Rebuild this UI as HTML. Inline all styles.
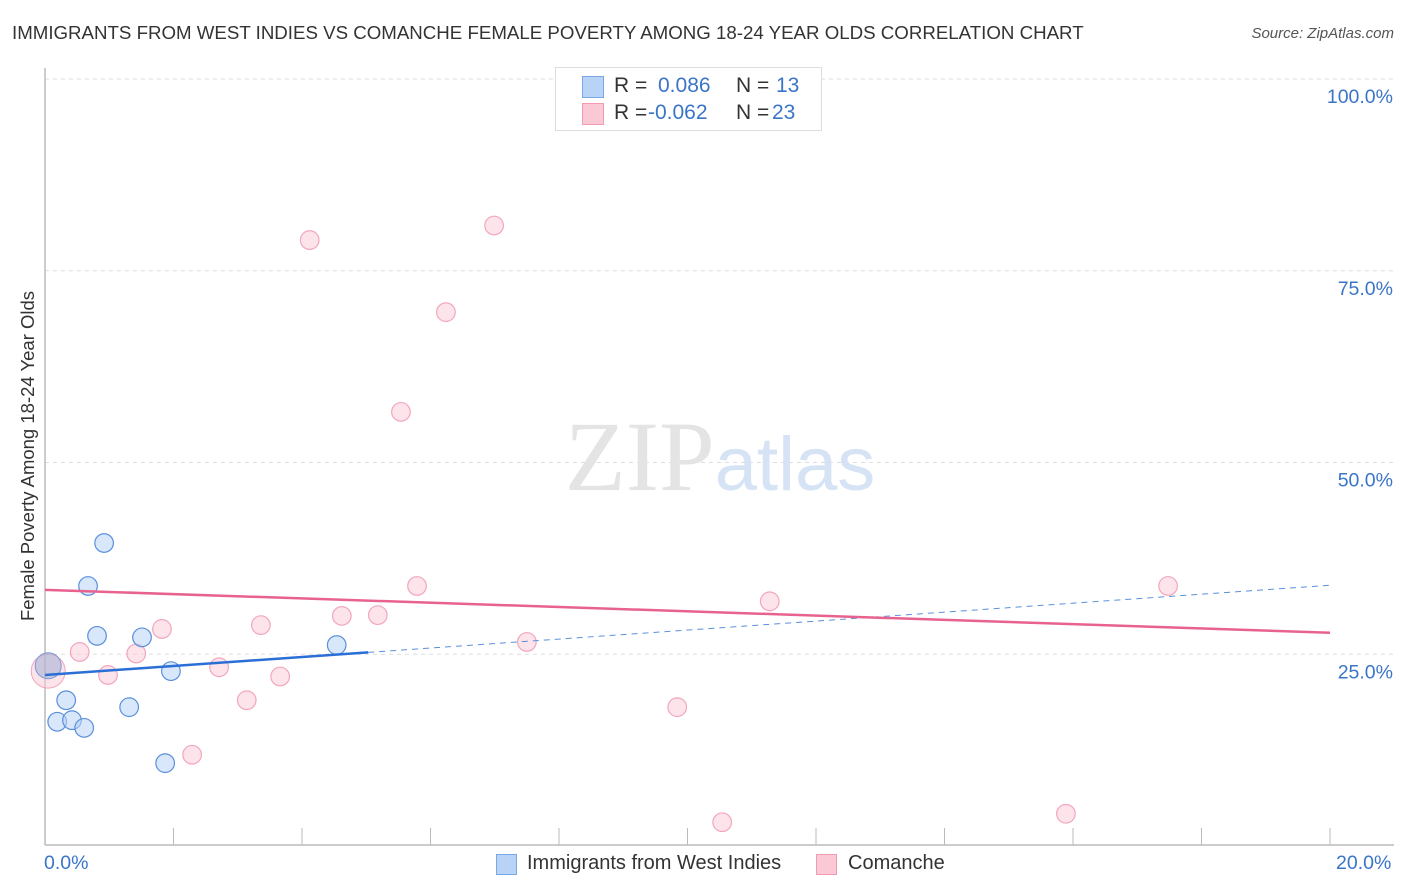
<!DOCTYPE html>
<html><head><meta charset="utf-8">
<style>
body{margin:0;background:#fff;font-family:"Liberation Sans",sans-serif;}
#wrap{position:relative;width:1406px;height:892px;overflow:hidden;}
.t{position:absolute;white-space:nowrap;}
</style></head><body>
<div id="wrap">
<div class="t" style="left:12px;top:22px;font-size:18.7px;color:#333;">IMMIGRANTS FROM WEST INDIES VS COMANCHE FEMALE POVERTY AMONG 18-24 YEAR OLDS CORRELATION CHART</div>
<div class="t" style="right:12px;top:25px;font-size:15px;color:#555;font-style:italic;">Source: ZipAtlas.com</div>
<div class="t" style="left:28px;top:456px;font-size:18.5px;color:#333;transform:translate(-50%,-50%) rotate(-90deg);">Female Poverty Among 18-24 Year Olds</div>
<svg id="svg" width="1406" height="892" style="position:absolute;left:0;top:0"></svg>
<div style="position:absolute;left:555px;top:67px;width:265px;height:62px;border:1px solid #ddd;background:#fff;font-size:21px;">
 <div style="position:absolute;left:26px;top:8px;width:20px;height:20px;background:#b8d3f5;border:1px solid #7aa8e6;"></div>
 <div class="t" style="left:58px;top:6px;color:#333;">R = </div><div class="t" style="left:102px;top:6px;color:#3a75c8;">0.086</div>
 <div class="t" style="left:180px;top:6px;color:#333;">N = </div><div class="t" style="left:220px;top:6px;color:#3a75c8;">13</div>
 <div style="position:absolute;left:26px;top:35px;width:20px;height:20px;background:#fbc8d6;border:1px solid #f09ab3;"></div>
 <div class="t" style="left:58px;top:33px;color:#333;">R = </div><div class="t" style="left:92px;top:33px;color:#3a75c8;">-0.062</div>
 <div class="t" style="left:180px;top:33px;color:#333;">N = </div><div class="t" style="left:216px;top:33px;color:#3a75c8;">23</div>
</div>
<div class="t" style="left:44px;top:852px;font-size:19.5px;color:#3a75c8;">0.0%</div>
<div class="t" style="left:1336px;top:852px;font-size:19.5px;color:#3a75c8;">20.0%</div>
<div style="position:absolute;left:496px;top:854px;width:19px;height:19px;background:#b8d3f5;border:1px solid #7aa8e6;"></div>
<div class="t" style="left:527px;top:852px;font-size:20px;color:#333;">Immigrants from West Indies</div>
<div style="position:absolute;left:816px;top:854px;width:19px;height:19px;background:#fbc8d6;border:1px solid #f09ab3;"></div>
<div class="t" style="left:848px;top:852px;font-size:20px;color:#333;">Comanche</div>
</div>
<script>
const yTicks=[25,50,75,100];
const yTickLabels=["25.0%","50.0%","75.0%","100.0%"];
const blueX=[0.05,0.19,0.33,0.42,0.61,0.67,0.81,0.92,1.31,1.51,1.87,1.96,4.54];
const blueY=[23.5,16.2,19.0,16.4,15.4,33.9,27.4,39.5,18.1,27.2,10.8,22.8,26.2];
const pinkX=[0.05,0.54,0.98,1.42,1.82,2.29,3.14,3.36,2.71,3.66,4.12,4.62,5.18,5.54,5.79,6.24,6.99,7.50,9.84,10.54,11.28,15.89,17.48];
const pinkY=[22.8,25.3,22.3,25.1,28.3,11.9,19.0,28.8,23.3,22.1,79.0,30.0,30.1,56.6,33.9,69.6,80.9,26.6,18.1,3.1,31.9,4.2,33.9];
const blueTrend=[22.3,34.0];
const pinkTrend=[33.4,27.8];
const X=v=>45+v/20*1285, Y=v=>846-v/100*767;
const svg=document.getElementById('svg'),NS='http://www.w3.org/2000/svg';
function mk(t,a,name){const e=document.createElementNS(NS,t);for(const k in a)e.setAttribute(k,a[k]);


svg.appendChild(e);return e;}
yTicks.forEach((v,i)=>{
 mk('line',{x1:45,x2:1394,y1:Y(v),y2:Y(v),stroke:'#ddd','stroke-dasharray':'4 4'},'gridline');
 const t=mk('text',{x:1393,y:Y(v)+24,'text-anchor':'end','font-size':19.5,fill:'#3a75c8','font-family':'Liberation Sans'},'y-tick-label');t.textContent=yTickLabels[i];
});
mk('line',{x1:45,x2:45,y1:68,y2:845,stroke:'#bbb','stroke-width':1.5},'y-axis-line');
mk('line',{x1:45,x2:1394,y1:845,y2:845,stroke:'#bbb','stroke-width':1.5},'x-axis-line');
for(let i=0;i<=10;i++)mk('line',{x1:X(i*2),x2:X(i*2),y1:828,y2:845,stroke:'#bbb'},'x-tick');
const wm=mk('text',{x:720,y:490,'text-anchor':'middle','font-size':100,fill:'#e4e4e4','font-family':'Liberation Serif'},'watermark');
wm.innerHTML='ZIP<tspan fill="#d5e3f5" font-family="Liberation Sans" font-size="76">atlas</tspan>';
mk('circle',{cx:X(pinkX[0]),cy:Y(pinkY[0]),r:17,fill:'rgba(251,200,214,0.5)',stroke:'#f2a6bd'},'pink-point-large');
pinkX.forEach((x,i)=>{if(i)mk('circle',{cx:X(x),cy:Y(pinkY[i]),r:9.3,fill:'rgba(251,200,214,0.5)',stroke:'#f2a6bd','stroke-width':1.2},'pink-point');});
mk('circle',{cx:X(blueX[0]),cy:Y(blueY[0]),r:13,fill:'rgba(150,170,210,0.5)',stroke:'#7a9ad6'},'blue-point-large');
blueX.forEach((x,i)=>{if(i)mk('circle',{cx:X(x),cy:Y(blueY[i]),r:9.3,fill:'rgba(184,211,245,0.55)',stroke:'#5b8fdb','stroke-width':1.2},'blue-point');});
const bAt=x=>blueTrend[0]+(blueTrend[1]-blueTrend[0])*x/20;
mk('line',{x1:X(0),y1:Y(bAt(0)),x2:X(5.03),y2:Y(bAt(5.03)),stroke:'#2a6fd6','stroke-width':2.5},'blue-trend-line');
mk('line',{x1:X(5.03),y1:Y(bAt(5.03)),x2:X(20),y2:Y(bAt(20)),stroke:'#5b8fdb','stroke-width':1,'stroke-dasharray':'6 5'},'blue-trend-extension');
mk('line',{x1:X(0),y1:Y(pinkTrend[0]),x2:X(20),y2:Y(pinkTrend[1]),stroke:'#e8628f','stroke-width':2.5},'pink-trend-line');
</script>
</body></html>
